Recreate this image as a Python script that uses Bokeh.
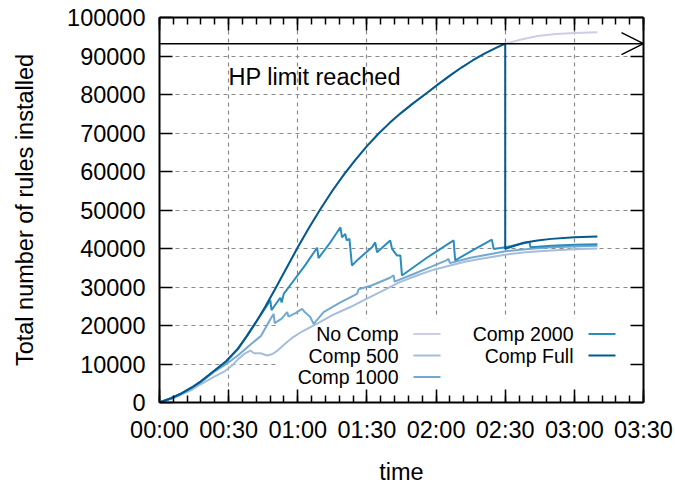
from bokeh.plotting import figure
from bokeh.models import (Range1d, FixedTicker, LinearAxis, NumeralTickFormatter,
                          Label, BoxAnnotation, Arrow, OpenHead)
from bokeh.embed import file_html
from bokeh.resources import INLINE

FONT = "Liberation Sans"

# ---------------- data ----------------
x_tick_minutes = [0, 30, 60, 90, 120, 150, 180, 210]
x_tick_labels = ["00:00", "00:30", "01:00", "01:30", "02:00", "02:30", "03:00", "03:30"]
x_minor_minutes = list(range(0, 211, 6))
y_ticks = list(range(0, 100001, 10000))

hp_limit = 93200

# No Comp and Comp Full coincide until the HP limit is reached
shared_t = [0, 5, 9, 14, 18, 24, 29, 34, 38, 42, 46, 50, 55, 60, 65, 70, 75, 80, 85,
            90, 95, 100, 105, 110, 116, 121, 126, 131, 136, 141, 146, 150]
shared_v = [0, 1100, 2200, 3900, 5500, 8400, 10800, 14000, 17300, 21000, 25000,
            29300, 34800, 40300, 45500, 50400, 55000, 59200, 63000, 66600, 69800,
            72700, 75300, 77700, 80400, 82700, 84900, 87000, 88900, 90600, 92100,
            93200]

nocomp_tail_t = [157, 164, 172, 180, 190]
nocomp_tail_v = [94300, 95200, 95700, 96000, 96200]

full_tail_t = [150, 154, 158, 164, 170, 180, 190]
full_tail_v = [39900, 40700, 41500, 42100, 42500, 42900, 43100]

c500_t = [0, 5, 9, 14, 18, 24, 28, 31.5, 34, 37, 39.4, 41, 43.8, 46.7, 49, 51, 55, 58,
          62, 68.4, 75, 82.8, 90, 97.2, 104, 111.7, 119, 126.1, 133, 139, 150, 160,
          170, 180, 190]
c500_v = [0, 900, 1900, 3300, 4800, 6800, 8000, 9600, 11200, 12700, 13500, 12800,
          12800, 12200, 12600, 13400, 15500, 17000, 18500, 20500, 22700, 24800, 27000,
          29100, 31200, 33000, 34500, 35600, 36600, 37300, 38400, 39100, 39500, 39800,
          40000]

c1000_t = [0, 5, 9, 14, 18, 24, 29, 34, 39, 44, 48, 49.5, 50, 53, 55.4, 56, 59, 61.9,
           63, 65.4, 66.9, 71.2, 78.5, 85.7, 86.4, 92, 100, 101.6, 102, 110, 118, 124.7,
           125.4, 126, 135, 145, 150, 160, 170, 180, 190]
c1000_v = [0, 1000, 2100, 3700, 5300, 8100, 10000, 12200, 14800, 17300, 21500, 23000,
           20600, 21800, 23500, 22300, 23200, 24300, 23500, 22200, 20400, 23500, 26000,
           28200, 29400, 30400, 32400, 33000, 31400, 33300, 35300, 37000, 37300, 36200,
           37600, 38700, 39300, 39900, 40300, 40500, 40700]

c2000_t = [0, 5, 9, 14, 18, 24, 29, 34, 39.4, 44, 48.1, 48.6, 52.4, 53, 53.9, 58, 63,
           68.4, 69, 74, 78.5, 79.2, 80.6, 81.2, 82.4, 83.5, 86.4, 92.2, 93.6, 94.4,
           100.1, 100.9, 103, 104.5, 105.2, 116, 127.6, 128.3, 136, 144.2, 145, 150,
           160.5, 161, 170, 180, 190]
c2000_v = [0, 1100, 2200, 3900, 5500, 8300, 10600, 13800, 18700, 22800, 26500, 24000,
           27200, 26000, 28200, 31500, 35500, 40200, 37500, 41500, 45500, 42900, 43800,
           42100, 42500, 35600, 37300, 40300, 41600, 39000, 42100, 39900, 38200, 38200,
           33000, 37600, 42100, 36900, 39600, 42300, 39900, 40300, 41700, 40300, 40700,
           41000, 41100]

names = ["No Comp", "Comp 500", "Comp 1000", "Comp 2000", "Comp Full"]
colors = ["#cdcee6", "#a6bddb", "#74a9cf", "#2b8cbe", "#045a8d"]
series_t = [shared_t + nocomp_tail_t, c500_t, c1000_t, c2000_t, shared_t + full_tail_t]
series_v = [shared_v + nocomp_tail_v, c500_v, c1000_v, c2000_v, shared_v + full_tail_v]

# ---------------- layout ----------------
W, H = 675, 489
FL, FR, FT, FB = 159, 643, 17, 402   # frame edges in canvas pixels
X0, X1, Y0, Y1 = 0, 210, 0, 100000
OFF = 0  # canvas offset within the page


def px_x(px):  # page pixel -> data x
    return X0 + (px - OFF - FL) * (X1 - X0) / (FR - FL)


def px_y(py):  # page pixel -> data y
    return Y0 + (FB - (py - OFF)) * (Y1 - Y0) / (FB - FT)


p = figure(width=W, height=H, output_backend="svg", toolbar_location=None,
           x_range=Range1d(X0, X1), y_range=Range1d(Y0, Y1),
           min_border_left=FL, min_border_right=W - FR,
           min_border_top=FT, min_border_bottom=H - FB,
           x_axis_label="time", y_axis_label="Total number of rules installed")
p.outline_line_color = None
p.background_fill_color = "white"
p.border_fill_color = "white"

xt = FixedTicker(ticks=x_tick_minutes, minor_ticks=x_minor_minutes)
yt = FixedTicker(ticks=y_ticks, minor_ticks=[])


def style_axis(ax, ticker, labels=True, minor=True):
    ax.ticker = ticker
    ax.axis_line_width = 2
    ax.axis_line_color = "black"
    ax.major_tick_in = 13
    ax.major_tick_out = 0
    ax.major_tick_line_width = 1.5
    ax.major_tick_line_color = "black"
    if minor:
        ax.minor_tick_in = 7
        ax.minor_tick_out = 0
        ax.minor_tick_line_width = 1.5
        ax.minor_tick_line_color = "black"
    else:
        ax.minor_tick_line_color = None
    ax.major_label_text_font = FONT
    ax.axis_label_text_font = FONT
    ax.axis_label_text_font_style = "normal"
    ax.axis_label_text_color = "black"
    ax.major_label_text_color = "black"
    if labels:
        ax.major_label_text_font_size = "23.5px"
        ax.axis_label_text_font_size = "23.5px"
        ax.major_label_standoff = 14
    else:
        ax.major_label_text_font_size = "0px"
        ax.major_label_standoff = 0
        ax.major_label_text_color = None


xa = p.xaxis[0]
style_axis(xa, xt)
xa.major_label_overrides = {m: s for m, s in zip(x_tick_minutes, x_tick_labels)}
xa.axis_label_standoff = 13

ya = p.yaxis[0]
style_axis(ya, yt, minor=False)
ya.formatter = NumeralTickFormatter(format="0")
ya.axis_label_standoff = 26

top = LinearAxis()
style_axis(top, xt, labels=False)
p.add_layout(top, "above")
right = LinearAxis()
style_axis(right, yt, labels=False, minor=False)
p.add_layout(right, "right")

for g, t in ((p.xgrid[0], xt), (p.ygrid[0], yt)):
    g.ticker = t
    g.grid_line_color = "#8a8a8a"
    g.grid_line_dash = "4 4"
    g.grid_line_width = 1.2

# opaque key background (covers grid only)
p.add_layout(BoxAnnotation(left=px_x(277), right=px_x(628), top=px_y(318), bottom=px_y(388),
                           fill_color="white", fill_alpha=1, line_color=None,
                           level="underlay"))

for t, v, c in zip(series_t, series_v, colors):
    p.line(t, v, line_color=c, line_width=2)

p.add_layout(Arrow(end=OpenHead(size=22, line_width=1.5, line_color="black"),
                   x_start=X0, y_start=hp_limit, x_end=X1, y_end=hp_limit,
                   line_width=1.5, line_color="black"))
p.add_layout(Label(x=px_x(228), y=px_y(76), text="HP limit reached",
                   text_font=FONT, text_font_size="23.5px", text_color="black",
                   text_baseline="alphabetic", text_align="left"))

# legend (text right-aligned, sample to its right)
leg_pos = [(398, 333.5), (398, 355), (398, 376.5), (573, 333.5), (573, 355)]
for name, c, (tx, ty) in zip(names, colors, leg_pos):
    p.add_layout(Label(x=px_x(tx), y=px_y(ty), text=name, text_font=FONT,
                       text_font_size="19.5px", text_color="black",
                       text_align="right", text_baseline="middle"))
    p.add_layout(BoxAnnotation(left=px_x(tx + 15), right=px_x(tx + 42),
                               top=px_y(ty - 1), bottom=px_y(ty + 1),
                               fill_color=c, fill_alpha=1, line_color=None))

open("out.html", "w").write(file_html(p, INLINE))
